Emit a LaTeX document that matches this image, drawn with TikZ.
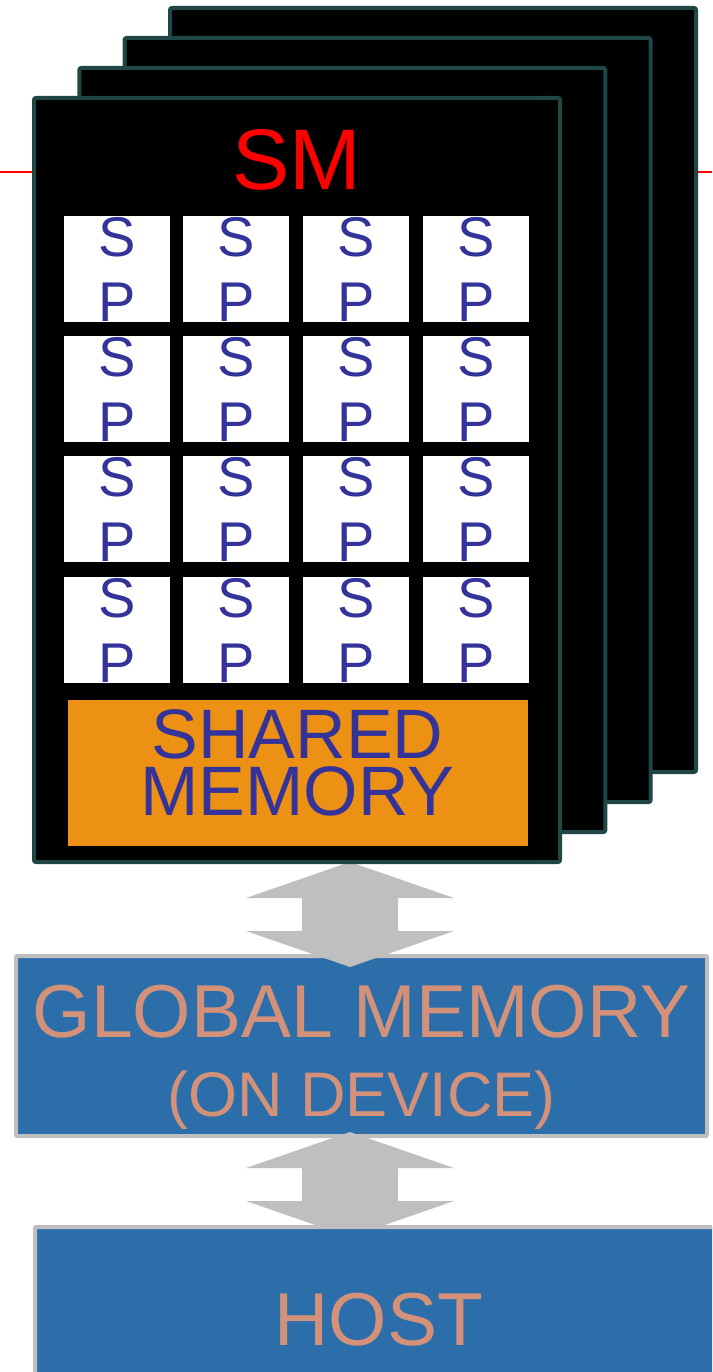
\documentclass[tikz,border=0pt]{standalone}
\usepackage{fontspec}
\setmainfont{Liberation Sans}
\usetikzlibrary{calc}
\definecolor{cardline}{HTML}{214646}
\definecolor{spblue}{HTML}{333399}
\definecolor{shorange}{HTML}{EC9113}
\definecolor{memblue}{HTML}{2C6EAA}
\definecolor{salmon}{HTML}{D4917A}
\definecolor{arrowgray}{HTML}{BFBFBF}
\definecolor{smred}{HTML}{FF0000}
\begin{document}
\begin{tikzpicture}[x=1pt,y=-1pt,
  card/.style={draw=cardline, line width=4pt, fill=black, rounded corners=2pt,
    minimum width=526pt, minimum height=764pt, inner sep=0pt},
  spbox/.style={fill=white, minimum size=106pt, inner sep=0pt, align=center,
    text=spblue, font=\fontsize{56}{65}\selectfont},
  membox/.style={draw=arrowgray, line width=4pt, fill=memblue, inner sep=0pt, rounded corners=1pt},
  memtext/.style={text=salmon, inner sep=0pt, anchor=base},
  bigarrow/.style={fill=arrowgray}
]
\useasboundingbox (0,0) rectangle (712,1372);
\clip (0,0) rectangle (712,1372);
\fill[white] (0,0) rectangle (712,1372);

% red guide line behind everything
\coordinate (redL) at (0,172);
\coordinate (redR) at (712,172);
\draw[smred, line width=2pt] (redL) -- (redR);

% global memory box
\node[membox, minimum width=691pt, minimum height=180pt] (global) at (361.5,1046) {};
\node[memtext, font=\fontsize{75}{75}\selectfont] (globaltxt) at (361.5,1037) {GLOBAL MEMORY};
\node[memtext, font=\fontsize{63}{63}\selectfont] (devicetxt) at (361.5,1116) {(ON DEVICE)};

% arrow between SM and global memory
\coordinate (a1t) at (350,862);
\coordinate (a1b) at (350,967);
\fill[bigarrow] (a1t) -- ($(a1t)+(104,36)$) -- ($(a1t)+(48,36)$) -- ($(a1b)+(48,-36)$)
  -- ($(a1b)+(104,-36)$) -- (a1b) -- ($(a1b)+(-104,-36)$) -- ($(a1b)+(-48,-36)$)
  -- ($(a1t)+(-48,36)$) -- ($(a1t)+(-104,36)$) -- cycle;

% stacked SM cards
\node[card] (sm4) at (433,390) {};
\node[card] (sm3) at (387.6,420) {};
\node[card] (sm2) at (342.3,450) {};
\node[card] (sm1) at (297,480) {};

\node[text=smred, inner sep=0pt, anchor=base, font=\fontsize{86}{86}\selectfont] (smtxt) at (297,190) {SM};

\foreach \r/\y in {1/269,2/389,3/509,4/630}{
  \foreach \c/\x in {1/117,2/236,3/356,4/476}{
    \node[spbox] (sp\r\c) at (\x,\y) {S\\P};
  }
}

\node[fill=shorange, minimum width=460pt, minimum height=146pt, inner sep=0pt] (shared) at (297.5,772.5) {};
\node[text=spblue, inner sep=0pt, anchor=north, align=center,
  font=\fontsize{70}{57}\selectfont] (sharedtxt) at (297.5,709) {SHARED\\MEMORY};

% arrow between global memory and host
\coordinate (a2t) at (350,1132);
\coordinate (a2b) at (350,1237);
\fill[bigarrow] (a2t) -- ($(a2t)+(104,36)$) -- ($(a2t)+(48,36)$) -- ($(a2b)+(48,-36)$)
  -- ($(a2b)+(104,-36)$) -- (a2b) -- ($(a2b)+(-104,-36)$) -- ($(a2b)+(-48,-36)$)
  -- ($(a2t)+(-48,36)$) -- ($(a2t)+(-104,36)$) -- cycle;

% host box (runs past the right and bottom edges)
\node[membox, minimum width=692pt, minimum height=200pt, anchor=north west] (host) at (33,1225) {};
\node[memtext, font=\fontsize{75}{75}\selectfont] (hosttxt) at (379,1345) {HOST};
\end{tikzpicture}
\end{document}
